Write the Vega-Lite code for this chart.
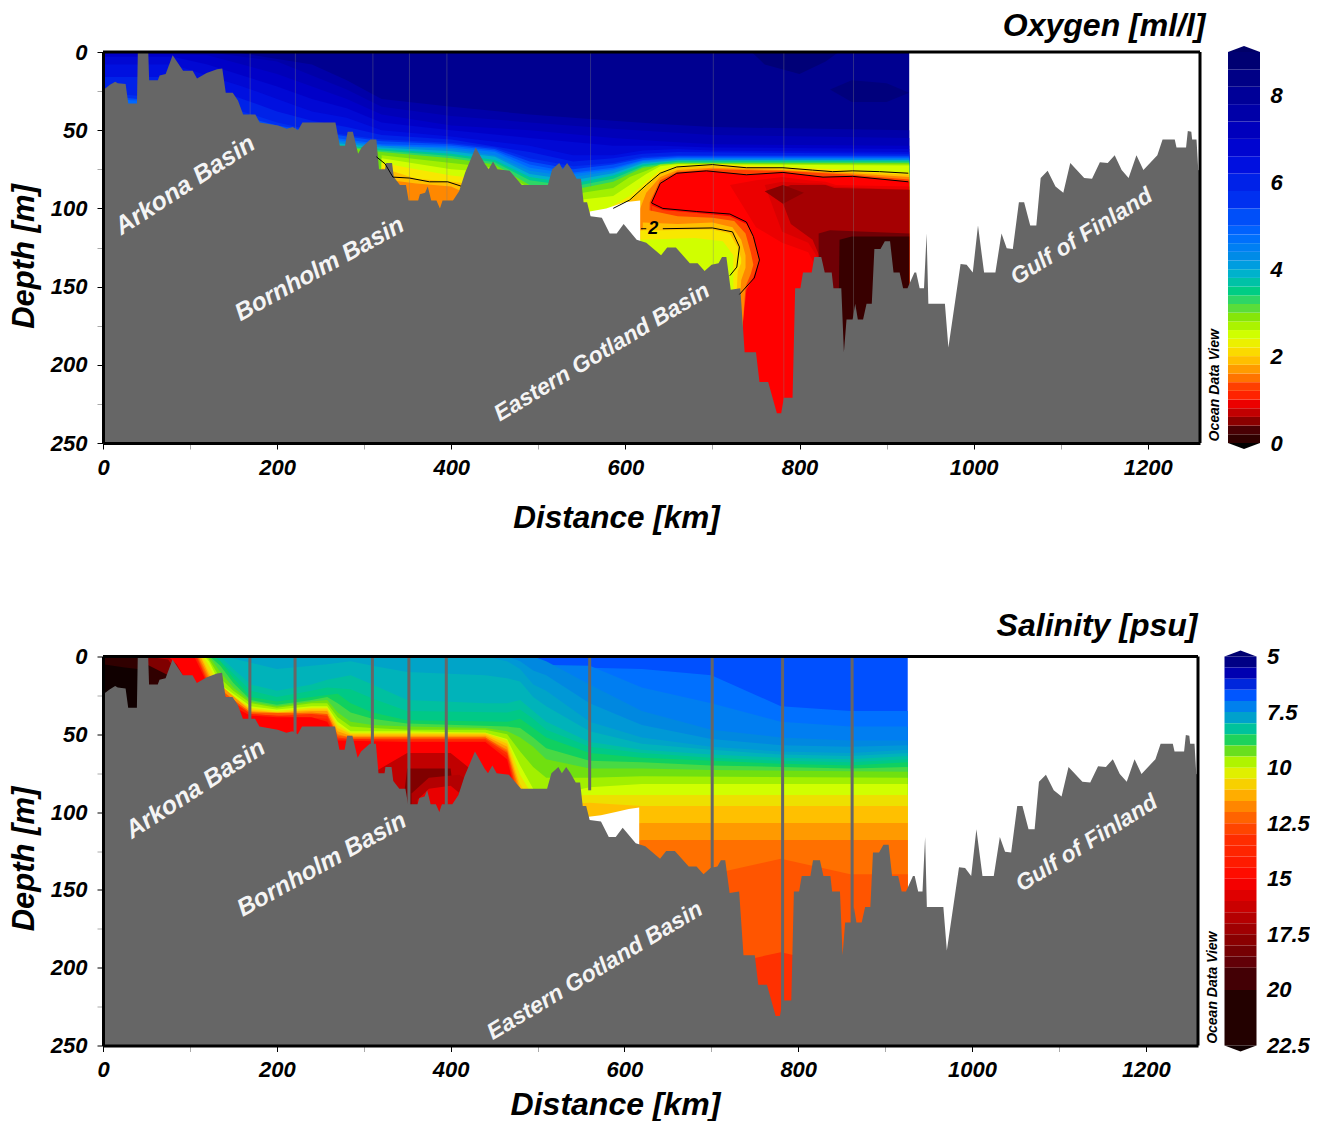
{"$schema":"https://vega.github.io/schema/vega-lite/v6.json","padding":{"left":8,"top":9,"right":0,"bottom":0},"background":"white",
"config":{"view":{"stroke":null},"font":"Liberation Sans","axis":{"grid":false,"labelFlush":false,"labelFont":"Liberation Sans","labelFontWeight":"bold","labelFontStyle":"italic","labelFontSize":22,"labelColor":"#000","titleFont":"Liberation Sans","titleFontWeight":"bold","titleFontStyle":"italic","titleColor":"#000"},"title":{"font":"Liberation Sans","fontWeight":"bold","fontStyle":"italic","fontSize":32,"color":"#000","anchor":"end"}},
"resolve":{"scale":{"color":"independent"}},
"datasets":{
"bathy":[{"x":0,"d":25},{"x":1,"d":24},{"x":8,"d":21},{"x":14,"d":19},{"x":17,"d":20},{"x":26,"d":20.5},{"x":29,"d":33},{"x":39,"d":33},{"x":40,"d":0},{"x":52,"d":0},{"x":53,"d":18},{"x":63,"d":18},{"x":65,"d":15},{"x":72,"d":14},{"x":80,"d":2},{"x":86,"d":7},{"x":92,"d":12},{"x":103,"d":12},{"x":108,"d":17},{"x":119,"d":13.5},{"x":131,"d":11},{"x":137,"d":10.5},{"x":141,"d":26},{"x":149,"d":26},{"x":155,"d":31},{"x":161,"d":40},{"x":175,"d":40},{"x":180,"d":45},{"x":201,"d":47},{"x":211,"d":49},{"x":218,"d":48},{"x":224,"d":50},{"x":229,"d":45},{"x":267,"d":45},{"x":272,"d":60},{"x":278,"d":60},{"x":281,"d":51},{"x":287,"d":51},{"x":293,"d":65},{"x":297,"d":61},{"x":307,"d":56},{"x":314,"d":56},{"x":317,"d":75},{"x":324,"d":75},{"x":325,"d":71},{"x":332,"d":71},{"x":334,"d":80},{"x":341,"d":85},{"x":348,"d":85},{"x":351,"d":95},{"x":362,"d":95},{"x":364,"d":91},{"x":370,"d":90},{"x":373,"d":86},{"x":377,"d":95},{"x":383,"d":95},{"x":387,"d":100},{"x":390,"d":95},{"x":402,"d":95},{"x":409,"d":89},{"x":416,"d":77},{"x":428,"d":61},{"x":439,"d":72},{"x":443,"d":75},{"x":448,"d":70},{"x":453,"d":75},{"x":467,"d":76},{"x":481,"d":85},{"x":511,"d":85},{"x":516,"d":75},{"x":524,"d":71},{"x":528,"d":75},{"x":533,"d":71},{"x":538,"d":75},{"x":544,"d":81},{"x":549,"d":81},{"x":552,"d":96},{"x":556,"d":96},{"x":560,"d":105},{"x":573,"d":106},{"x":582,"d":116},{"x":590,"d":116},{"x":598,"d":110},{"x":613,"d":120},{"x":624,"d":122},{"x":641,"d":130},{"x":648,"d":125},{"x":658,"d":125},{"x":674,"d":135},{"x":683,"d":135},{"x":691,"d":140},{"x":699,"d":136},{"x":707,"d":135},{"x":711,"d":131},{"x":716,"d":131},{"x":721,"d":152},{"x":732,"d":151},{"x":737,"d":192},{"x":750,"d":192},{"x":754,"d":211},{"x":764,"d":211},{"x":774,"d":231},{"x":779,"d":231},{"x":782,"d":221},{"x":792,"d":221},{"x":795,"d":151},{"x":801,"d":151},{"x":804,"d":141},{"x":814,"d":141},{"x":817,"d":131},{"x":825,"d":131},{"x":829,"d":141},{"x":837,"d":141},{"x":839,"d":151},{"x":848,"d":151},{"x":851,"d":192},{"x":854,"d":171},{"x":861,"d":171},{"x":864,"d":161},{"x":867,"d":171},{"x":873,"d":171},{"x":877,"d":161},{"x":883,"d":161},{"x":886,"d":126},{"x":893,"d":126},{"x":898,"d":121},{"x":904,"d":121},{"x":908,"d":141},{"x":915,"d":141},{"x":919,"d":151},{"x":924,"d":151},{"x":932,"d":141},{"x":934,"d":141},{"x":938,"d":151},{"x":943,"d":151},{"x":946,"d":116},{"x":948,"d":161},{"x":967,"d":161},{"x":971,"d":189},{"x":985,"d":135.5},{"x":992,"d":136},{"x":999,"d":141},{"x":1005,"d":111},{"x":1012,"d":141},{"x":1025,"d":141},{"x":1032,"d":116},{"x":1038,"d":125.5},{"x":1045,"d":126},{"x":1052,"d":96},{"x":1058,"d":96},{"x":1065,"d":111},{"x":1072,"d":111},{"x":1077,"d":80.5},{"x":1085,"d":76},{"x":1094,"d":86},{"x":1103,"d":90},{"x":1111,"d":71},{"x":1127,"d":80.5},{"x":1136,"d":81},{"x":1145,"d":70.5},{"x":1154,"d":71},{"x":1162,"d":66},{"x":1170,"d":75.5},{"x":1178,"d":80.5},{"x":1187,"d":66},{"x":1195,"d":75.5},{"x":1211,"d":66},{"x":1217,"d":56},{"x":1231,"d":56},{"x":1233,"d":61},{"x":1244,"d":61},{"x":1246,"d":50.5},{"x":1250,"d":51},{"x":1251,"d":56},{"x":1256,"d":56},{"x":1258,"d":75.5},{"x":1260,"d":76}],
"oxy":[{"v":8.2,"x":0,"d":0},{"v":8.2,"x":926,"d":0},
{"v":7.6,"x":0,"d":0},{"v":7.6,"x":150,"d":0},{"v":7.6,"x":240,"d":8},{"v":7.6,"x":280,"d":18},{"v":7.6,"x":320,"d":30},{"v":7.6,"x":400,"d":35},{"v":7.6,"x":490,"d":40},{"v":7.6,"x":586,"d":44},{"v":7.6,"x":640,"d":46},{"v":7.6,"x":700,"d":48},{"v":7.6,"x":926,"d":50},
{"v":7.3,"x":0,"d":0},{"v":7.3,"x":120,"d":0},{"v":7.3,"x":160,"d":3},{"v":7.3,"x":200,"d":6},{"v":7.3,"x":240,"d":15},{"v":7.3,"x":280,"d":24},{"v":7.3,"x":320,"d":35},{"v":7.3,"x":400,"d":41},{"v":7.3,"x":490,"d":45},{"v":7.3,"x":586,"d":49},{"v":7.3,"x":640,"d":51},{"v":7.3,"x":700,"d":53},{"v":7.3,"x":926,"d":55},
{"v":7,"x":0,"d":0},{"v":7,"x":120,"d":2},{"v":7,"x":160,"d":8},{"v":7,"x":200,"d":14},{"v":7,"x":240,"d":22},{"v":7,"x":280,"d":30},{"v":7,"x":320,"d":40},{"v":7,"x":400,"d":47},{"v":7,"x":490,"d":50},{"v":7,"x":586,"d":55},{"v":7,"x":640,"d":57},{"v":7,"x":700,"d":59},{"v":7,"x":926,"d":60},
{"v":6.7,"x":0,"d":3},{"v":6.7,"x":80,"d":3},{"v":6.7,"x":120,"d":8},{"v":6.7,"x":160,"d":15},{"v":6.7,"x":200,"d":22},{"v":6.7,"x":240,"d":30},{"v":6.7,"x":280,"d":36},{"v":6.7,"x":320,"d":45},{"v":6.7,"x":400,"d":50},{"v":6.7,"x":490,"d":55},{"v":6.7,"x":586,"d":60},{"v":6.7,"x":640,"d":60},{"v":6.7,"x":700,"d":61},{"v":6.7,"x":926,"d":62},
{"v":6.4,"x":0,"d":8},{"v":6.4,"x":80,"d":8},{"v":6.4,"x":120,"d":15},{"v":6.4,"x":160,"d":22},{"v":6.4,"x":200,"d":30},{"v":6.4,"x":240,"d":38},{"v":6.4,"x":280,"d":42},{"v":6.4,"x":320,"d":50},{"v":6.4,"x":400,"d":54},{"v":6.4,"x":490,"d":60},{"v":6.4,"x":540,"d":66},{"v":6.4,"x":586,"d":66},{"v":6.4,"x":620,"d":63},{"v":6.4,"x":660,"d":62},{"v":6.4,"x":700,"d":63},{"v":6.4,"x":926,"d":64},
{"v":6,"x":0,"d":16},{"v":6,"x":80,"d":16},{"v":6,"x":120,"d":22},{"v":6,"x":160,"d":30},{"v":6,"x":200,"d":38},{"v":6,"x":240,"d":44},{"v":6,"x":280,"d":48},{"v":6,"x":320,"d":53},{"v":6,"x":400,"d":56},{"v":6,"x":490,"d":64},{"v":6,"x":540,"d":70},{"v":6,"x":586,"d":68},{"v":6,"x":620,"d":65},{"v":6,"x":660,"d":64},{"v":6,"x":926,"d":65},
{"v":5.6,"x":0,"d":26},{"v":5.6,"x":40,"d":28},{"v":5.6,"x":80,"d":25},{"v":5.6,"x":120,"d":30},{"v":5.6,"x":160,"d":38},{"v":5.6,"x":200,"d":45},{"v":5.6,"x":240,"d":50},{"v":5.6,"x":280,"d":53},{"v":5.6,"x":320,"d":56},{"v":5.6,"x":400,"d":58},{"v":5.6,"x":450,"d":61},{"v":5.6,"x":490,"d":68},{"v":5.6,"x":540,"d":73},{"v":5.6,"x":586,"d":71},{"v":5.6,"x":620,"d":67},{"v":5.6,"x":660,"d":66},{"v":5.6,"x":926,"d":66},
{"v":5.2,"x":0,"d":28},{"v":5.2,"x":40,"d":30},{"v":5.2,"x":120,"d":35},{"v":5.2,"x":200,"d":47},{"v":5.2,"x":280,"d":54},{"v":5.2,"x":320,"d":57},{"v":5.2,"x":400,"d":59},{"v":5.2,"x":450,"d":62},{"v":5.2,"x":490,"d":70},{"v":5.2,"x":540,"d":75},{"v":5.2,"x":586,"d":72},{"v":5.2,"x":620,"d":68},{"v":5.2,"x":660,"d":66.7},{"v":5.2,"x":926,"d":66.7},
{"v":4.8,"x":0,"d":30},{"v":4.8,"x":40,"d":31},{"v":4.8,"x":120,"d":40},{"v":4.8,"x":200,"d":50},{"v":4.8,"x":280,"d":56},{"v":4.8,"x":320,"d":59},{"v":4.8,"x":400,"d":60},{"v":4.8,"x":450,"d":63},{"v":4.8,"x":490,"d":72},{"v":4.8,"x":540,"d":77},{"v":4.8,"x":586,"d":74},{"v":4.8,"x":620,"d":69},{"v":4.8,"x":660,"d":67.5},{"v":4.8,"x":926,"d":67.5},
{"v":4.5,"x":0,"d":36},{"v":4.5,"x":120,"d":42},{"v":4.5,"x":200,"d":51},{"v":4.5,"x":280,"d":57},{"v":4.5,"x":320,"d":60},{"v":4.5,"x":400,"d":61},{"v":4.5,"x":450,"d":64},{"v":4.5,"x":490,"d":74},{"v":4.5,"x":540,"d":78},{"v":4.5,"x":586,"d":75},{"v":4.5,"x":620,"d":69.5},{"v":4.5,"x":660,"d":68},{"v":4.5,"x":926,"d":68},
{"v":4.2,"x":0,"d":40},{"v":4.2,"x":120,"d":45},{"v":4.2,"x":200,"d":52},{"v":4.2,"x":280,"d":58},{"v":4.2,"x":320,"d":60},{"v":4.2,"x":400,"d":62},{"v":4.2,"x":450,"d":66},{"v":4.2,"x":490,"d":76},{"v":4.2,"x":540,"d":80},{"v":4.2,"x":586,"d":76},{"v":4.2,"x":620,"d":70},{"v":4.2,"x":660,"d":68.5},{"v":4.2,"x":926,"d":68.5},
{"v":3.9,"x":200,"d":54},{"v":3.9,"x":280,"d":59},{"v":3.9,"x":320,"d":61},{"v":3.9,"x":400,"d":63.5},{"v":3.9,"x":450,"d":67},{"v":3.9,"x":490,"d":78},{"v":3.9,"x":540,"d":82},{"v":3.9,"x":586,"d":77.5},{"v":3.9,"x":620,"d":71},{"v":3.9,"x":660,"d":69},{"v":3.9,"x":926,"d":69},
{"v":3.6,"x":200,"d":56},{"v":3.6,"x":280,"d":60},{"v":3.6,"x":320,"d":62},{"v":3.6,"x":400,"d":65},{"v":3.6,"x":450,"d":69},{"v":3.6,"x":490,"d":80},{"v":3.6,"x":540,"d":84},{"v":3.6,"x":586,"d":79},{"v":3.6,"x":620,"d":72},{"v":3.6,"x":660,"d":69.5},{"v":3.6,"x":926,"d":69.5},
{"v":3.3,"x":200,"d":58},{"v":3.3,"x":280,"d":60.5},{"v":3.3,"x":320,"d":63},{"v":3.3,"x":400,"d":66.5},{"v":3.3,"x":450,"d":70.5},{"v":3.3,"x":490,"d":82},{"v":3.3,"x":540,"d":86},{"v":3.3,"x":586,"d":81},{"v":3.3,"x":620,"d":73},{"v":3.3,"x":660,"d":70.2},{"v":3.3,"x":926,"d":70.2},
{"v":3,"x":200,"d":60},{"v":3,"x":280,"d":61},{"v":3,"x":320,"d":64},{"v":3,"x":400,"d":68},{"v":3,"x":450,"d":72},{"v":3,"x":490,"d":85},{"v":3,"x":540,"d":88},{"v":3,"x":586,"d":83},{"v":3,"x":620,"d":74},{"v":3,"x":660,"d":71},{"v":3,"x":926,"d":71},
{"v":2.75,"x":320,"d":66},{"v":2.75,"x":400,"d":71},{"v":2.75,"x":450,"d":74},{"v":2.75,"x":490,"d":87},{"v":2.75,"x":540,"d":91},{"v":2.75,"x":586,"d":87},{"v":2.75,"x":605,"d":80},{"v":2.75,"x":624,"d":76},{"v":2.75,"x":640,"d":72},{"v":2.75,"x":660,"d":71.4},{"v":2.75,"x":926,"d":71.8},
{"v":2.5,"x":320,"d":68},{"v":2.5,"x":400,"d":75},{"v":2.5,"x":450,"d":77},{"v":2.5,"x":490,"d":90},{"v":2.5,"x":540,"d":95},{"v":2.5,"x":586,"d":92},{"v":2.5,"x":605,"d":85},{"v":2.5,"x":624,"d":78},{"v":2.5,"x":640,"d":73},{"v":2.5,"x":660,"d":71.8},{"v":2.5,"x":926,"d":72.5},
{"v":2.2,"x":320,"d":71},{"v":2.2,"x":400,"d":79},{"v":2.2,"x":450,"d":82},{"v":2.2,"x":490,"d":100},{"v":2.2,"x":560,"d":110},{"v":2.2,"x":586,"d":98},{"v":2.2,"x":605,"d":92},{"v":2.2,"x":624,"d":83},{"v":2.2,"x":640,"d":75.5},{"v":2.2,"x":660,"d":72.8},{"v":2.2,"x":700,"d":71.5},{"v":2.2,"x":780,"d":73.5},{"v":2.2,"x":860,"d":75.5},{"v":2.2,"x":926,"d":77},
{"v":1.9,"x":320,"d":74},{"v":1.9,"x":360,"d":81},{"v":1.9,"x":400,"d":83},{"v":1.9,"x":450,"d":86},{"v":1.9,"x":490,"d":105},{"v":1.9,"x":586,"d":101},{"v":1.9,"x":605,"d":95},{"v":1.9,"x":624,"d":86},{"v":1.9,"x":640,"d":78},{"v":1.9,"x":660,"d":74},{"v":1.9,"x":700,"d":72.5},{"v":1.9,"x":780,"d":74.5},{"v":1.9,"x":860,"d":76.5},{"v":1.9,"x":926,"d":78.5},
{"v":1.6,"x":330,"d":82},{"v":1.6,"x":360,"d":84},{"v":1.6,"x":400,"d":86},{"v":1.6,"x":415,"d":90},{"v":1.6,"x":440,"d":260},{"v":1.6,"x":600,"d":260},{"v":1.6,"x":615,"d":103},{"v":1.6,"x":624,"d":90},{"v":1.6,"x":640,"d":80},{"v":1.6,"x":660,"d":75.5},{"v":1.6,"x":700,"d":74},{"v":1.6,"x":780,"d":75.5},{"v":1.6,"x":860,"d":77.5},{"v":1.6,"x":926,"d":80},
{"v":1.3,"x":620,"d":260},{"v":1.3,"x":628,"d":96},{"v":1.3,"x":640,"d":82},{"v":1.3,"x":660,"d":76.5},{"v":1.3,"x":700,"d":75},{"v":1.3,"x":780,"d":76},{"v":1.3,"x":860,"d":78.5},{"v":1.3,"x":926,"d":81.5},
{"v":1,"x":620,"d":260},{"v":1,"x":630,"d":97},{"v":1,"x":640,"d":84},{"v":1,"x":659,"d":77.5},{"v":1,"x":693,"d":76},{"v":1,"x":739,"d":78.5},{"v":1,"x":781,"d":77},{"v":1,"x":827,"d":80},{"v":1,"x":861,"d":79.5},{"v":1,"x":926,"d":83}],
"oxyBlobs":[{"v":8.7,"x":745,"d":0,"e":0},{"v":8.7,"x":760,"d":0,"e":8},{"v":8.7,"x":800,"d":0,"e":14},{"v":8.7,"x":830,"d":0,"e":6},{"v":8.7,"x":845,"d":0,"e":0},
{"v":8.6,"x":835,"d":24,"e":24},{"v":8.6,"x":860,"d":18,"e":32},{"v":8.6,"x":900,"d":20,"e":32},{"v":8.6,"x":926,"d":26,"e":26},
{"v":0.9,"x":720,"d":85,"e":85},{"v":0.9,"x":750,"d":82,"e":112},{"v":0.9,"x":780,"d":80,"e":122},{"v":0.9,"x":810,"d":82,"e":128},{"v":0.9,"x":830,"d":83,"e":150},{"v":0.9,"x":842,"d":85,"e":250},{"v":0.9,"x":926,"d":86,"e":250},
{"v":0.8,"x":760,"d":85,"e":85},{"v":0.8,"x":780,"d":83,"e":115},{"v":0.8,"x":810,"d":84,"e":122},{"v":0.8,"x":825,"d":84,"e":135},{"v":0.8,"x":840,"d":86,"e":250},{"v":0.8,"x":926,"d":88,"e":250},
{"v":0.6,"x":775,"d":88,"e":88},{"v":0.6,"x":790,"d":85,"e":110},{"v":0.6,"x":815,"d":85,"e":120},{"v":0.6,"x":830,"d":85,"e":140},{"v":0.6,"x":840,"d":87,"e":250},{"v":0.6,"x":926,"d":88,"e":250},
{"v":0.5,"x":760,"d":89,"e":89},{"v":0.5,"x":781,"d":85,"e":97},{"v":0.5,"x":805,"d":90,"e":90},
{"v":0.42,"x":822,"d":116,"e":140},{"v":0.42,"x":835,"d":114,"e":250},{"v":0.42,"x":926,"d":116,"e":250},
{"v":0.22,"x":843,"d":250,"e":250},{"v":0.22,"x":846,"d":120,"e":250},{"v":0.22,"x":860,"d":118,"e":250},{"v":0.22,"x":926,"d":118,"e":250},
{"v":1.3,"x":630,"d":98,"e":250},{"v":1.3,"x":643,"d":101,"e":250},{"v":1.3,"x":682,"d":103,"e":250},{"v":1.3,"x":720,"d":105,"e":250},{"v":1.3,"x":739,"d":110,"e":152},{"v":1.3,"x":747,"d":118,"e":144},{"v":1.3,"x":754,"d":133,"e":133},
{"v":1.6,"x":626,"d":101,"e":250},{"v":1.6,"x":660,"d":105,"e":250},{"v":1.6,"x":700,"d":106,"e":250},{"v":1.6,"x":725,"d":108,"e":250},{"v":1.6,"x":738,"d":116,"e":150},{"v":1.6,"x":744,"d":128,"e":142},{"v":1.6,"x":747,"d":136,"e":136},
{"v":1.9,"x":620,"d":109,"e":250},{"v":1.9,"x":660,"d":110,"e":250},{"v":1.9,"x":700,"d":109,"e":250},{"v":1.9,"x":723,"d":112,"e":250},{"v":1.9,"x":733,"d":120,"e":146},{"v":1.9,"x":738,"d":130,"e":138},
{"v":2.2,"x":617,"d":114,"e":250},{"v":2.2,"x":643,"d":114,"e":250},{"v":2.2,"x":700,"d":113.5,"e":250},{"v":2.2,"x":720,"d":116,"e":250},{"v":2.2,"x":729,"d":125,"e":140},{"v":2.2,"x":733,"d":132,"e":135},
{"v":2.5,"x":617,"d":120,"e":250},{"v":2.5,"x":680,"d":119,"e":250},{"v":2.5,"x":712,"d":121,"e":250},{"v":2.5,"x":724,"d":130,"e":250}],
"contours":[{"c":1,"i":0,"x":314,"d":67},{"c":1,"i":1,"x":324,"d":71.5},{"c":1,"i":2,"x":333,"d":80},{"c":1,"i":3,"x":352,"d":80.6},{"c":1,"i":4,"x":375,"d":83},{"c":1,"i":5,"x":396,"d":83},{"c":1,"i":6,"x":411,"d":85.7},
{"c":2,"i":0,"x":586,"d":100},{"c":2,"i":1,"x":605,"d":94.6},{"c":2,"i":2,"x":624,"d":85},{"c":2,"i":3,"x":640,"d":77.5},{"c":2,"i":4,"x":659,"d":73.5},{"c":2,"i":5,"x":700,"d":72},{"c":2,"i":6,"x":739,"d":74},{"c":2,"i":7,"x":781,"d":74},{"c":2,"i":8,"x":815,"d":75.5},{"c":2,"i":9,"x":838,"d":76.5},{"c":2,"i":10,"x":861,"d":76},{"c":2,"i":11,"x":892,"d":76.5},{"c":2,"i":12,"x":925,"d":77.5},
{"c":3,"i":0,"x":925,"d":83},{"c":3,"i":1,"x":861,"d":79.5},{"c":3,"i":2,"x":827,"d":80},{"c":3,"i":3,"x":781,"d":77},{"c":3,"i":4,"x":739,"d":78.5},{"c":3,"i":5,"x":693,"d":76},{"c":3,"i":6,"x":659,"d":77.5},{"c":3,"i":7,"x":640,"d":84},{"c":3,"i":8,"x":630,"d":96.5},{"c":3,"i":9,"x":643,"d":100},{"c":3,"i":10,"x":682,"d":102},{"c":3,"i":11,"x":720,"d":103.6},{"c":3,"i":12,"x":739,"d":108.7},{"c":3,"i":13,"x":747,"d":118},{"c":3,"i":14,"x":754,"d":133},{"c":3,"i":15,"x":748,"d":144.5},{"c":3,"i":16,"x":731,"d":155},
{"c":4,"i":0,"x":643,"d":113},{"c":4,"i":1,"x":700,"d":112.5},{"c":4,"i":2,"x":723,"d":115},{"c":4,"i":3,"x":731,"d":124.6},{"c":4,"i":4,"x":728,"d":137.5},{"c":4,"i":5,"x":720,"d":143},
{"c":5,"i":0,"x":618,"d":113},{"c":5,"i":1,"x":624,"d":113}],
"sal":[{"v":6.7,"x":0,"d":0},{"v":6.7,"x":926,"d":0},
{"v":7,"x":0,"d":0},{"v":7,"x":620,"d":8},{"v":7,"x":700,"d":12},{"v":7,"x":780,"d":32},{"v":7,"x":860,"d":35},{"v":7,"x":926,"d":35},
{"v":7.2,"x":0,"d":0},{"v":7.2,"x":560,"d":6},{"v":7.2,"x":620,"d":20},{"v":7.2,"x":700,"d":30},{"v":7.2,"x":780,"d":42},{"v":7.2,"x":860,"d":45},{"v":7.2,"x":926,"d":45},
{"v":7.4,"x":0,"d":0},{"v":7.4,"x":495,"d":0},{"v":7.4,"x":510,"d":3},{"v":7.4,"x":560,"d":18},{"v":7.4,"x":620,"d":35},{"v":7.4,"x":700,"d":47},{"v":7.4,"x":780,"d":52},{"v":7.4,"x":860,"d":54},{"v":7.4,"x":926,"d":54},
{"v":7.6,"x":0,"d":0},{"v":7.6,"x":465,"d":0},{"v":7.6,"x":480,"d":3},{"v":7.6,"x":495,"d":9},{"v":7.6,"x":510,"d":12},{"v":7.6,"x":560,"d":30},{"v":7.6,"x":620,"d":44},{"v":7.6,"x":700,"d":53},{"v":7.6,"x":780,"d":57},{"v":7.6,"x":860,"d":58},{"v":7.6,"x":926,"d":57},
{"v":7.8,"x":0,"d":0},{"v":7.8,"x":440,"d":0},{"v":7.8,"x":465,"d":3},{"v":7.8,"x":480,"d":8},{"v":7.8,"x":495,"d":18},{"v":7.8,"x":510,"d":22},{"v":7.8,"x":560,"d":42},{"v":7.8,"x":620,"d":52},{"v":7.8,"x":700,"d":58},{"v":7.8,"x":780,"d":61},{"v":7.8,"x":860,"d":62},{"v":7.8,"x":926,"d":60},
{"v":8,"x":0,"d":0},{"v":8,"x":140,"d":0},{"v":8,"x":170,"d":4},{"v":8,"x":200,"d":8},{"v":8,"x":240,"d":6},{"v":8,"x":258,"d":5},{"v":8,"x":285,"d":3},{"v":8,"x":310,"d":6},{"v":8,"x":350,"d":10},{"v":8,"x":440,"d":12},{"v":8,"x":465,"d":14},{"v":8,"x":480,"d":16},{"v":8,"x":495,"d":26},{"v":8,"x":510,"d":32},{"v":8,"x":560,"d":48},{"v":8,"x":620,"d":56},{"v":8,"x":700,"d":60},{"v":8,"x":780,"d":63},{"v":8,"x":860,"d":64},{"v":8,"x":926,"d":62},
{"v":8.2,"x":0,"d":0},{"v":8.2,"x":135,"d":0},{"v":8.2,"x":150,"d":8},{"v":8.2,"x":170,"d":18},{"v":8.2,"x":200,"d":22},{"v":8.2,"x":240,"d":18},{"v":8.2,"x":258,"d":15},{"v":8.2,"x":285,"d":12},{"v":8.2,"x":310,"d":18},{"v":8.2,"x":350,"d":28},{"v":8.2,"x":440,"d":30},{"v":8.2,"x":465,"d":30},{"v":8.2,"x":480,"d":28},{"v":8.2,"x":495,"d":35},{"v":8.2,"x":510,"d":42},{"v":8.2,"x":560,"d":55},{"v":8.2,"x":620,"d":60},{"v":8.2,"x":700,"d":63},{"v":8.2,"x":780,"d":65},{"v":8.2,"x":860,"d":66},{"v":8.2,"x":926,"d":64},
{"v":8.45,"x":0,"d":0},{"v":8.45,"x":130,"d":0},{"v":8.45,"x":150,"d":11},{"v":8.45,"x":170,"d":22},{"v":8.45,"x":200,"d":26},{"v":8.45,"x":240,"d":22},{"v":8.45,"x":258,"d":20},{"v":8.45,"x":285,"d":21},{"v":8.45,"x":310,"d":27},{"v":8.45,"x":350,"d":35},{"v":8.45,"x":465,"d":36},{"v":8.45,"x":480,"d":34},{"v":8.45,"x":495,"d":40},{"v":8.45,"x":510,"d":47},{"v":8.45,"x":560,"d":58},{"v":8.45,"x":620,"d":62},{"v":8.45,"x":700,"d":65},{"v":8.45,"x":780,"d":67},{"v":8.45,"x":860,"d":68},{"v":8.45,"x":926,"d":66},
{"v":8.7,"x":0,"d":0},{"v":8.7,"x":125,"d":0},{"v":8.7,"x":135,"d":3},{"v":8.7,"x":150,"d":14},{"v":8.7,"x":170,"d":26},{"v":8.7,"x":200,"d":29},{"v":8.7,"x":240,"d":26},{"v":8.7,"x":270,"d":24},{"v":8.7,"x":285,"d":30},{"v":8.7,"x":310,"d":36},{"v":8.7,"x":350,"d":41},{"v":8.7,"x":465,"d":42},{"v":8.7,"x":480,"d":40},{"v":8.7,"x":495,"d":46},{"v":8.7,"x":510,"d":52},{"v":8.7,"x":560,"d":62},{"v":8.7,"x":620,"d":65},{"v":8.7,"x":700,"d":67},{"v":8.7,"x":780,"d":69},{"v":8.7,"x":860,"d":70},{"v":8.7,"x":926,"d":68},
{"v":9,"x":0,"d":0},{"v":9,"x":123,"d":0},{"v":9,"x":135,"d":6},{"v":9,"x":150,"d":17},{"v":9,"x":170,"d":28},{"v":9,"x":200,"d":31},{"v":9,"x":240,"d":28},{"v":9,"x":258,"d":26},{"v":9,"x":270,"d":30},{"v":9,"x":285,"d":36},{"v":9,"x":310,"d":40},{"v":9,"x":350,"d":43},{"v":9,"x":465,"d":45},{"v":9,"x":480,"d":46},{"v":9,"x":495,"d":52},{"v":9,"x":510,"d":59},{"v":9,"x":560,"d":67},{"v":9,"x":620,"d":68},{"v":9,"x":700,"d":70},{"v":9,"x":780,"d":71},{"v":9,"x":860,"d":72},{"v":9,"x":926,"d":71},
{"v":9.3,"x":0,"d":0},{"v":9.3,"x":122,"d":0},{"v":9.3,"x":135,"d":10},{"v":9.3,"x":150,"d":20},{"v":9.3,"x":170,"d":29},{"v":9.3,"x":200,"d":32},{"v":9.3,"x":240,"d":29},{"v":9.3,"x":258,"d":28},{"v":9.3,"x":270,"d":36},{"v":9.3,"x":285,"d":42},{"v":9.3,"x":310,"d":44},{"v":9.3,"x":350,"d":45},{"v":9.3,"x":440,"d":46},{"v":9.3,"x":465,"d":48},{"v":9.3,"x":480,"d":52},{"v":9.3,"x":495,"d":58},{"v":9.3,"x":510,"d":66},{"v":9.3,"x":560,"d":72},{"v":9.3,"x":620,"d":72},{"v":9.3,"x":700,"d":73},{"v":9.3,"x":926,"d":74},
{"v":9.65,"x":0,"d":0},{"v":9.65,"x":120,"d":0},{"v":9.65,"x":135,"d":14},{"v":9.65,"x":150,"d":22},{"v":9.65,"x":170,"d":30},{"v":9.65,"x":200,"d":33},{"v":9.65,"x":240,"d":30},{"v":9.65,"x":258,"d":30},{"v":9.65,"x":270,"d":39},{"v":9.65,"x":285,"d":45},{"v":9.65,"x":310,"d":46},{"v":9.65,"x":350,"d":47},{"v":9.65,"x":440,"d":47},{"v":9.65,"x":465,"d":50},{"v":9.65,"x":480,"d":61},{"v":9.65,"x":495,"d":71},{"v":9.65,"x":510,"d":78},{"v":9.65,"x":560,"d":78},{"v":9.65,"x":620,"d":77},{"v":9.65,"x":926,"d":78},
{"v":10,"x":0,"d":0},{"v":10,"x":117,"d":0},{"v":10,"x":122,"d":3},{"v":10,"x":135,"d":18},{"v":10,"x":150,"d":24},{"v":10,"x":170,"d":32},{"v":10,"x":200,"d":34},{"v":10,"x":240,"d":32},{"v":10,"x":258,"d":32},{"v":10,"x":270,"d":42},{"v":10,"x":285,"d":48},{"v":10,"x":350,"d":48},{"v":10,"x":440,"d":49},{"v":10,"x":465,"d":53},{"v":10,"x":480,"d":70},{"v":10,"x":495,"d":85},{"v":10,"x":510,"d":90},{"v":10,"x":560,"d":84},{"v":10,"x":620,"d":82},{"v":10,"x":926,"d":82},
{"v":10.5,"x":0,"d":0},{"v":10.5,"x":115,"d":0},{"v":10.5,"x":122,"d":6},{"v":10.5,"x":135,"d":20},{"v":10.5,"x":170,"d":33},{"v":10.5,"x":200,"d":35},{"v":10.5,"x":240,"d":33},{"v":10.5,"x":258,"d":33},{"v":10.5,"x":270,"d":44},{"v":10.5,"x":285,"d":49},{"v":10.5,"x":440,"d":49},{"v":10.5,"x":465,"d":54},{"v":10.5,"x":480,"d":76},{"v":10.5,"x":495,"d":90},{"v":10.5,"x":560,"d":89},{"v":10.5,"x":620,"d":89},{"v":10.5,"x":926,"d":89},
{"v":11,"x":0,"d":0},{"v":11,"x":113,"d":0},{"v":11,"x":122,"d":10},{"v":11,"x":135,"d":22},{"v":11,"x":150,"d":26},{"v":11,"x":170,"d":34},{"v":11,"x":200,"d":36},{"v":11,"x":240,"d":34},{"v":11,"x":258,"d":34},{"v":11,"x":270,"d":46},{"v":11,"x":285,"d":50},{"v":11,"x":440,"d":50},{"v":11,"x":465,"d":56},{"v":11,"x":480,"d":82},{"v":11,"x":495,"d":96},{"v":11,"x":560,"d":94},{"v":11,"x":620,"d":96},{"v":11,"x":926,"d":96},
{"v":11.5,"x":0,"d":0},{"v":11.5,"x":112,"d":0},{"v":11.5,"x":122,"d":12},{"v":11.5,"x":170,"d":35},{"v":11.5,"x":200,"d":36},{"v":11.5,"x":240,"d":35},{"v":11.5,"x":258,"d":35},{"v":11.5,"x":270,"d":48},{"v":11.5,"x":285,"d":51},{"v":11.5,"x":440,"d":51},{"v":11.5,"x":465,"d":58},{"v":11.5,"x":480,"d":85},{"v":11.5,"x":495,"d":108},{"v":11.5,"x":560,"d":110},{"v":11.5,"x":620,"d":107},{"v":11.5,"x":926,"d":107},
{"v":12,"x":0,"d":0},{"v":12,"x":110,"d":0},{"v":12,"x":122,"d":14},{"v":12,"x":150,"d":28},{"v":12,"x":170,"d":36},{"v":12,"x":200,"d":37},{"v":12,"x":240,"d":36},{"v":12,"x":258,"d":37},{"v":12,"x":270,"d":50},{"v":12,"x":285,"d":52},{"v":12,"x":440,"d":52},{"v":12,"x":465,"d":60},{"v":12,"x":480,"d":88},{"v":12,"x":495,"d":120},{"v":12,"x":560,"d":125},{"v":12,"x":620,"d":118},{"v":12,"x":926,"d":118},
{"v":12.5,"x":0,"d":0},{"v":12.5,"x":109,"d":0},{"v":12.5,"x":122,"d":16},{"v":12.5,"x":170,"d":36},{"v":12.5,"x":258,"d":37},{"v":12.5,"x":270,"d":51},{"v":12.5,"x":285,"d":52},{"v":12.5,"x":440,"d":52},{"v":12.5,"x":465,"d":61},{"v":12.5,"x":480,"d":91},{"v":12.5,"x":495,"d":150},{"v":12.5,"x":620,"d":150},{"v":12.5,"x":700,"d":140},{"v":12.5,"x":780,"d":130},{"v":12.5,"x":860,"d":140},{"v":12.5,"x":926,"d":140},
{"v":13,"x":0,"d":0},{"v":13,"x":108,"d":0},{"v":13,"x":122,"d":18},{"v":13,"x":170,"d":37},{"v":13,"x":200,"d":38},{"v":13,"x":240,"d":37},{"v":13,"x":258,"d":38},{"v":13,"x":270,"d":52},{"v":13,"x":285,"d":53},{"v":13,"x":440,"d":53},{"v":13,"x":465,"d":62},{"v":13,"x":480,"d":95},{"v":13,"x":495,"d":260},{"v":13,"x":620,"d":260},{"v":13,"x":700,"d":200},{"v":13,"x":780,"d":190},{"v":13,"x":860,"d":200},{"v":13,"x":926,"d":200},
{"v":14,"x":0,"d":0},{"v":14,"x":107,"d":0},{"v":14,"x":122,"d":19},{"v":14,"x":170,"d":37},{"v":14,"x":200,"d":38},{"v":14,"x":258,"d":40},{"v":14,"x":270,"d":53},{"v":14,"x":350,"d":54},{"v":14,"x":440,"d":54},{"v":14,"x":465,"d":64},{"v":14,"x":480,"d":97},{"v":14,"x":495,"d":260},
{"v":15,"x":0,"d":0},{"v":15,"x":105,"d":0},{"v":15,"x":112,"d":8},{"v":15,"x":122,"d":20},{"v":15,"x":135,"d":28},{"v":15,"x":170,"d":38},{"v":15,"x":200,"d":39},{"v":15,"x":240,"d":39},{"v":15,"x":258,"d":42},{"v":15,"x":270,"d":54},{"v":15,"x":350,"d":55},{"v":15,"x":440,"d":55},{"v":15,"x":465,"d":66},{"v":15,"x":480,"d":100},{"v":15,"x":495,"d":260},
{"v":16.5,"x":0,"d":0},{"v":16.5,"x":75,"d":0},{"v":16.5,"x":85,"d":5},{"v":16.5,"x":100,"d":20},{"v":16.5,"x":112,"d":260},{"v":16.5,"x":285,"d":260},{"v":16.5,"x":310,"d":75},{"v":16.5,"x":350,"d":62},{"v":16.5,"x":400,"d":62},{"v":16.5,"x":440,"d":80},{"v":16.5,"x":465,"d":260},
{"v":18,"x":0,"d":0},{"v":18,"x":50,"d":0},{"v":18,"x":75,"d":2},{"v":18,"x":85,"d":10},{"v":18,"x":100,"d":260},{"v":18,"x":310,"d":260},{"v":18,"x":350,"d":72},{"v":18,"x":400,"d":72},{"v":18,"x":440,"d":260},
{"v":20,"x":0,"d":0},{"v":20,"x":40,"d":0},{"v":20,"x":50,"d":5},{"v":20,"x":75,"d":12},{"v":20,"x":85,"d":20},{"v":20,"x":100,"d":260},
{"v":22,"x":0,"d":5},{"v":22,"x":25,"d":7},{"v":22,"x":40,"d":8},{"v":22,"x":50,"d":18},{"v":22,"x":60,"d":260}],
"salBlobs":[{"v":16.8,"x":355,"d":88,"e":250},{"v":16.8,"x":375,"d":78,"e":250},{"v":16.8,"x":410,"d":76,"e":250},{"v":16.8,"x":425,"d":82,"e":250},
{"v":15.5,"x":362,"d":92,"e":250},{"v":15.5,"x":375,"d":85,"e":250},{"v":15.5,"x":400,"d":83,"e":250},{"v":15.5,"x":415,"d":90,"e":250},{"v":15.5,"x":420,"d":250,"e":250}],
"stations":[{"x":169,"d":250},{"x":221,"d":250},{"x":310,"d":250},{"x":352,"d":250},{"x":395,"d":250},{"x":560,"d":86},{"x":701,"d":250},{"x":782,"d":250},{"x":862,"d":250}],
"barO":[{"v":0.1,"a":0,"b":0.2,"l":0,"r":1},{"v":0.3,"a":0.2,"b":0.4,"l":0,"r":1},{"v":0.5,"a":0.4,"b":0.6,"l":0,"r":1},{"v":0.7,"a":0.6,"b":0.8,"l":0,"r":1},{"v":0.9,"a":0.8,"b":1,"l":0,"r":1},{"v":1.1,"a":1,"b":1.2,"l":0,"r":1},{"v":1.3,"a":1.2,"b":1.4,"l":0,"r":1},{"v":1.5,"a":1.4,"b":1.6,"l":0,"r":1},{"v":1.7,"a":1.6,"b":1.8,"l":0,"r":1},{"v":1.9,"a":1.8,"b":2,"l":0,"r":1},{"v":2.1,"a":2,"b":2.2,"l":0,"r":1},{"v":2.3,"a":2.2,"b":2.4,"l":0,"r":1},{"v":2.5,"a":2.4,"b":2.6,"l":0,"r":1},{"v":2.7,"a":2.6,"b":2.8,"l":0,"r":1},{"v":2.9,"a":2.8,"b":3,"l":0,"r":1},{"v":3.1,"a":3,"b":3.2,"l":0,"r":1},{"v":3.3,"a":3.2,"b":3.4,"l":0,"r":1},{"v":3.5,"a":3.4,"b":3.6,"l":0,"r":1},{"v":3.7,"a":3.6,"b":3.8,"l":0,"r":1},{"v":3.9,"a":3.8,"b":4,"l":0,"r":1},{"v":4.1,"a":4,"b":4.2,"l":0,"r":1},{"v":4.3,"a":4.2,"b":4.4,"l":0,"r":1},{"v":4.5,"a":4.4,"b":4.6,"l":0,"r":1},{"v":4.7,"a":4.6,"b":4.8,"l":0,"r":1},{"v":4.9,"a":4.8,"b":5,"l":0,"r":1},{"v":5.2,"a":5,"b":5.4,"l":0,"r":1},{"v":5.6,"a":5.4,"b":5.8,"l":0,"r":1},{"v":6,"a":5.8,"b":6.2,"l":0,"r":1},{"v":6.4,"a":6.2,"b":6.6,"l":0,"r":1},{"v":6.8,"a":6.6,"b":7,"l":0,"r":1},{"v":7.2,"a":7,"b":7.4,"l":0,"r":1},{"v":7.6,"a":7.4,"b":7.8,"l":0,"r":1},{"v":8,"a":7.8,"b":8.2,"l":0,"r":1},{"v":8.4,"a":8.2,"b":8.6,"l":0,"r":1},{"v":8.8,"a":8.6,"b":9,"l":0,"r":1}],
"barS":[{"v":5.25,"a":5,"b":5.5,"l":0,"r":1},{"v":5.75,"a":5.5,"b":6,"l":0,"r":1},{"v":6.25,"a":6,"b":6.5,"l":0,"r":1},{"v":6.75,"a":6.5,"b":7,"l":0,"r":1},{"v":7.25,"a":7,"b":7.5,"l":0,"r":1},{"v":7.75,"a":7.5,"b":8,"l":0,"r":1},{"v":8.25,"a":8,"b":8.5,"l":0,"r":1},{"v":8.75,"a":8.5,"b":9,"l":0,"r":1},{"v":9.25,"a":9,"b":9.5,"l":0,"r":1},{"v":9.75,"a":9.5,"b":10,"l":0,"r":1},{"v":10.25,"a":10,"b":10.5,"l":0,"r":1},{"v":10.75,"a":10.5,"b":11,"l":0,"r":1},{"v":11.25,"a":11,"b":11.5,"l":0,"r":1},{"v":11.75,"a":11.5,"b":12,"l":0,"r":1},{"v":12.25,"a":12,"b":12.5,"l":0,"r":1},{"v":12.75,"a":12.5,"b":13,"l":0,"r":1},{"v":13.25,"a":13,"b":13.5,"l":0,"r":1},{"v":13.75,"a":13.5,"b":14,"l":0,"r":1},{"v":14.25,"a":14,"b":14.5,"l":0,"r":1},{"v":14.75,"a":14.5,"b":15,"l":0,"r":1},{"v":15.25,"a":15,"b":15.5,"l":0,"r":1},{"v":15.75,"a":15.5,"b":16,"l":0,"r":1},{"v":16.25,"a":16,"b":16.5,"l":0,"r":1},{"v":16.75,"a":16.5,"b":17,"l":0,"r":1},{"v":17.25,"a":17,"b":17.5,"l":0,"r":1},{"v":17.75,"a":17.5,"b":18,"l":0,"r":1},{"v":18.25,"a":18,"b":18.5,"l":0,"r":1},{"v":18.75,"a":18.5,"b":19,"l":0,"r":1},{"v":19.5,"a":19,"b":20,"l":0,"r":1},{"v":21,"a":20,"b":22.5,"l":0,"r":1}]
},
"spacing":75.5,
"vconcat":[
{"spacing":1,"resolve":{"scale":{"color":"independent"}},"hconcat":[
{"width":1097,"height":391,"title":{"text":"Oxygen [ml/l]","offset":-1.5,"dx":4},
"encoding":{"x":{"field":"x","type":"quantitative","scale":{"domain":[0,1260],"nice":false,"zero":false},"axis":{"values":[0,100,200,300,400,500,600,700,800,900,1000,1100,1200],"labelExpr":"datum.value%200==0?datum.label:''","tickColor":{"condition":{"test":"datum.value%200!=0","value":"#aaa"},"value":"#000"},"tickSize":6,"domainColor":"#000","domainWidth":3,"labelPadding":8,"labelOverlap":false,"title":"Distance [km]","titleFontSize":31.5,"titlePadding":24,"titleX":513,"format":"d","zindex":1}},"y":{"field":"d","type":"quantitative","stack":null,"scale":{"domain":[0,250],"reverse":true,"nice":false,"zero":false},"axis":{"values":[0,25,50,75,100,125,150,175,200,225,250],"labelExpr":"datum.value%50==0?datum.label:''","tickColor":{"condition":{"test":"datum.value%50!=0","value":"#aaa"},"value":"#000"},"tickSize":6,"domainColor":"#000","domainWidth":3,"labelPadding":10,"labelOverlap":false,"title":"Depth [m]","titleFontSize":31,"titlePadding":9.5,"titleY":204,"format":"d","zindex":1}}},
"layer":[
{"data":{"name":"oxy"},"mark":{"type":"area","orient":"vertical","clip":true},"encoding":{"y2":{"datum":250},"detail":{"field":"v","type":"nominal"},"color":{"field":"v","type":"quantitative","legend":null,"scale":{"domain":[0,0.25,0.5,0.75,1,1.3,1.6,1.9,2.2,2.5,3,3.6,4.2,4.8,5.6,6.4,7,7.6,8.2,9],"range":["#000000","#3a0000","#8a0000","#d00000","#ff0000","#ff4000","#ff8800","#ffbf00","#f8e800","#d0ff00","#70e010","#00c890","#0090e0","#0068ff","#0030f0","#0010e0","#0000c8","#0000a8","#000090","#000068"]}}}},
{"data":{"name":"oxyBlobs"},"mark":{"type":"area","orient":"vertical","clip":true},"encoding":{"y2":{"field":"e"},"detail":{"field":"v","type":"nominal"},"color":{"field":"v","type":"quantitative","legend":null}}},
{"data":{"name":"stations"},"mark":{"type":"rule","color":"#808080","opacity":0.35,"strokeWidth":1},"encoding":{"y2":{"datum":0}}},
{"data":{"values":[{"x":559,"d":102},{"x":578,"d":100},{"x":599,"d":96},{"x":617,"d":95}]},"mark":{"type":"area","orient":"vertical","color":"#fff"},"encoding":{"y2":{"datum":250}}},
{"data":{"name":"bathy"},"mark":{"type":"area","orient":"vertical","color":"#666666"},"encoding":{"y2":{"datum":250}}},
{"data":{"name":"contours"},"mark":{"type":"line","color":"#000","strokeWidth":1},"encoding":{"detail":{"field":"c","type":"nominal"},"order":{"field":"i","type":"quantitative"}}},
{"data":{"values":[{"x":632,"d":113,"t":"2"}]},"mark":{"type":"text","font":"Liberation Sans","fontWeight":"bold","fontStyle":"italic","fontSize":18,"color":"#000"},"encoding":{"text":{"field":"t"}}},
{"data":{"values":[{"x":94,"d":85,"t":"Arkona Basin","a":-33,"s":25},{"x":249,"d":139,"t":"Bornholm Basin","a":-29,"s":24.5},{"x":573,"d":192,"t":"Eastern Gotland Basin","a":-31,"s":23},{"x":1124,"d":118,"t":"Gulf of Finland","a":-32,"s":23}]},"mark":{"type":"text","font":"Liberation Sans","fontWeight":"bold","fontStyle":"italic","color":"#f4f4f4"},"encoding":{"text":{"field":"t"},"angle":{"field":"a","type":"quantitative","scale":null},"size":{"field":"s","type":"quantitative","scale":null}}},
{"data":{"values":[{"x":1260,"d":0}]},"mark":{"type":"rule","color":"#000","strokeWidth":3},"encoding":{"y2":{"datum":250}}},
{"data":{"values":[{"x":0,"d":0}]},"mark":{"type":"rule","color":"#000","strokeWidth":3},"encoding":{"x2":{"datum":1260}}}
]},
{"width":32,"height":391,
"encoding":{"x":{"field":"x","type":"quantitative","scale":{"domain":[0,1],"nice":false,"zero":false},"axis":null},"y":{"field":"a","type":"quantitative","stack":null,"scale":{"domain":[0,9],"nice":false,"zero":false},"axis":{"orient":"right","values":[0,2,4,6,8],"domain":false,"ticks":false,"labelPadding":10,"title":null,"format":"d"}}},
"layer":[
{"data":{"name":"barO"},"mark":{"type":"rect"},"encoding":{"x":{"field":"l","type":"quantitative","scale":{"domain":[0,1],"nice":false,"zero":false},"axis":null},"x2":{"field":"r"},"y2":{"field":"b"},"color":{"field":"v","type":"quantitative","legend":null,"scale":{"domain":[0,0.25,0.5,0.75,1,1.3,1.6,1.9,2.2,2.5,3,3.6,4.2,4.8,5.6,6.4,7,7.6,8.2,9],"range":["#000000","#3a0000","#8a0000","#d00000","#ff0000","#ff4000","#ff8800","#ffbf00","#f8e800","#d0ff00","#70e010","#00c890","#0090e0","#0068ff","#0030f0","#0010e0","#0000c8","#0000a8","#000090","#000068"]}}}},
{"data":{"values":[{"x":0,"a":9,"b":9},{"x":0.5,"a":9,"b":9.14},{"x":1,"a":9,"b":9}]},"mark":{"type":"area","orient":"vertical","color":"#000068"},"encoding":{"y2":{"field":"b"}}},
{"data":{"values":[{"x":0,"a":0,"b":0},{"x":0.5,"a":0,"b":-0.14},{"x":1,"a":0,"b":0}]},"mark":{"type":"area","orient":"vertical","color":"#000000"},"encoding":{"y2":{"field":"b"}}},
{"data":{"values":[{"x":-0.41,"a":1.33,"t":"Ocean Data View"}]},"mark":{"type":"text","angle":270,"font":"Liberation Sans","fontStyle":"italic","fontWeight":"bold","fontSize":14,"color":"#000"},"encoding":{"text":{"field":"t"}}}
]}
]},
{"spacing":5.5,"resolve":{"scale":{"color":"independent"}},"hconcat":[
{"width":1095,"height":389,"title":{"text":"Salinity [psu]","offset":3,"dx":-2},
"encoding":{"x":{"field":"x","type":"quantitative","scale":{"domain":[0,1260],"nice":false,"zero":false},"axis":{"values":[0,100,200,300,400,500,600,700,800,900,1000,1100,1200],"labelExpr":"datum.value%200==0?datum.label:''","tickColor":{"condition":{"test":"datum.value%200!=0","value":"#aaa"},"value":"#000"},"tickSize":6,"domainColor":"#000","domainWidth":3,"labelPadding":8,"labelOverlap":false,"title":"Distance [km]","titleFontSize":32,"titlePadding":9,"titleX":512,"format":"d","zindex":1}},"y":{"field":"d","type":"quantitative","stack":null,"scale":{"domain":[0,250],"reverse":true,"nice":false,"zero":false},"axis":{"values":[0,25,50,75,100,125,150,175,200,225,250],"labelExpr":"datum.value%50==0?datum.label:''","tickColor":{"condition":{"test":"datum.value%50!=0","value":"#aaa"},"value":"#000"},"tickSize":6,"domainColor":"#000","domainWidth":3,"labelPadding":10,"labelOverlap":false,"title":"Depth [m]","titleFontSize":31,"titlePadding":9.5,"titleY":202,"format":"d","zindex":1}}},
"layer":[
{"data":{"name":"sal"},"mark":{"type":"area","orient":"vertical","clip":true},"encoding":{"y2":{"datum":250},"detail":{"field":"v","type":"nominal"},"color":{"field":"v","type":"quantitative","legend":null,"scale":{"domain":[5,6,6.7,7,7.4,7.8,8.2,8.7,9.3,10,11,12,13,15,16.5,18,20,22,22.5],"range":["#000070","#0000c8","#0050ff","#0070ff","#0088e0","#00a4c8","#00c0a0","#10d060","#70e010","#d0ff00","#ffc000","#ff7000","#ff3000","#ff0000","#c00000","#800000","#300000","#100000","#100000"]}}}},
{"data":{"name":"salBlobs"},"mark":{"type":"area","orient":"vertical","clip":true},"encoding":{"y2":{"field":"e"},"detail":{"field":"v","type":"nominal"},"color":{"field":"v","type":"quantitative","legend":null}}},
{"data":{"name":"stations"},"mark":{"type":"rule","color":"#666666","strokeWidth":3},"encoding":{"y2":{"datum":0}}},
{"data":{"values":[{"x":559,"d":103},{"x":573,"d":102},{"x":590,"d":100},{"x":605,"d":98},{"x":617,"d":97}]},"mark":{"type":"area","orient":"vertical","color":"#fff"},"encoding":{"y2":{"datum":250}}},
{"data":{"name":"bathy"},"mark":{"type":"area","orient":"vertical","color":"#666666"},"encoding":{"y2":{"datum":250}}},
{"data":{"values":[{"x":106,"d":85,"t":"Arkona Basin","a":-33,"s":25},{"x":252,"d":134,"t":"Bornholm Basin","a":-29,"s":24.5},{"x":566,"d":202,"t":"Eastern Gotland Basin","a":-31,"s":23},{"x":1132,"d":120,"t":"Gulf of Finland","a":-32,"s":23}]},"mark":{"type":"text","font":"Liberation Sans","fontWeight":"bold","fontStyle":"italic","color":"#f4f4f4"},"encoding":{"text":{"field":"t"},"angle":{"field":"a","type":"quantitative","scale":null},"size":{"field":"s","type":"quantitative","scale":null}}},
{"data":{"values":[{"x":1260,"d":0}]},"mark":{"type":"rule","color":"#000","strokeWidth":3},"encoding":{"y2":{"datum":250}}},
{"data":{"values":[{"x":0,"d":0}]},"mark":{"type":"rule","color":"#000","strokeWidth":3},"encoding":{"x2":{"datum":1260}}}
]},
{"width":32,"height":389,
"encoding":{"x":{"field":"x","type":"quantitative","scale":{"domain":[0,1],"nice":false,"zero":false},"axis":null},"y":{"field":"a","type":"quantitative","stack":null,"scale":{"domain":[5,22.5],"reverse":true,"nice":false,"zero":false},"axis":{"orient":"right","values":[5,7.5,10,12.5,15,17.5,20,22.5],"domain":false,"ticks":false,"labelPadding":10,"title":null,"format":".3~g"}}},
"layer":[
{"data":{"name":"barS"},"mark":{"type":"rect"},"encoding":{"x":{"field":"l","type":"quantitative","scale":{"domain":[0,1],"nice":false,"zero":false},"axis":null},"x2":{"field":"r"},"y2":{"field":"b"},"color":{"field":"v","type":"quantitative","legend":null,"scale":{"domain":[5,6,6.7,7,7.4,7.8,8.2,8.7,9.3,10,11,12,13,15,16.5,18,20,22,22.5],"range":["#000070","#0000c8","#0050ff","#0070ff","#0088e0","#00a4c8","#00c0a0","#10d060","#70e010","#d0ff00","#ffc000","#ff7000","#ff3000","#ff0000","#c00000","#800000","#300000","#100000","#100000"]}}}},
{"data":{"values":[{"x":0,"a":5,"b":5},{"x":0.5,"a":5,"b":4.73},{"x":1,"a":5,"b":5}]},"mark":{"type":"area","orient":"vertical","color":"#000070"},"encoding":{"y2":{"field":"b"}}},
{"data":{"values":[{"x":0,"a":22.5,"b":22.5},{"x":0.5,"a":22.5,"b":22.77},{"x":1,"a":22.5,"b":22.5}]},"mark":{"type":"area","orient":"vertical","color":"#100000"},"encoding":{"y2":{"field":"b"}}},
{"data":{"values":[{"x":-0.36,"a":19.9,"t":"Ocean Data View"}]},"mark":{"type":"text","angle":270,"font":"Liberation Sans","fontStyle":"italic","fontWeight":"bold","fontSize":14,"color":"#000"},"encoding":{"text":{"field":"t"}}}
]}
]}
]}
